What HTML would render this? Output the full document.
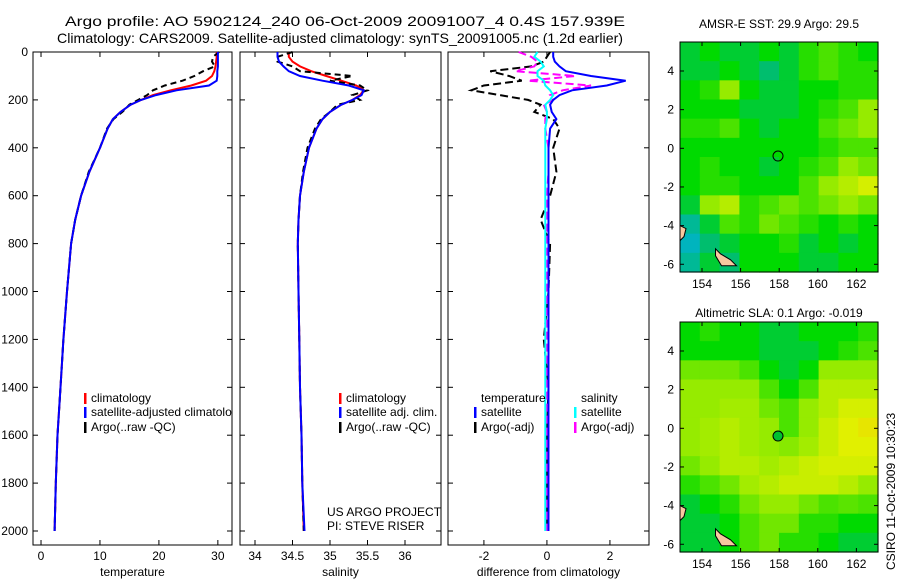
<!DOCTYPE html>
<html><head><meta charset="utf-8"><style>
body{margin:0;background:#fff;}
svg{display:block;font-family:"Liberation Sans",sans-serif;}
</style></head><body>
<svg id="s" width="900" height="580" viewBox="0 0 900 580">
<defs><clipPath id="c1"><rect x="33" y="52" width="199" height="493"/></clipPath></defs>
<text x="345" y="26" font-size="14" text-anchor="middle" textLength="560" lengthAdjust="spacingAndGlyphs">Argo profile: AO 5902124_240 06-Oct-2009 20091007_4 0.4S 157.939E</text>
<text x="340" y="43" font-size="14" text-anchor="middle" textLength="566" lengthAdjust="spacingAndGlyphs">Climatology: CARS2009. Satellite-adjusted climatology: synTS_20091005.nc (1.2d earlier)</text>
<text x="779" y="28" font-size="12" text-anchor="middle">AMSR-E SST: 29.9 Argo: 29.5</text>
<text x="779" y="317" font-size="12" text-anchor="middle">Altimetric SLA: 0.1 Argo: -0.019</text>
<text transform="translate(895,570) rotate(-90)" font-size="12">CSIRO 11-Oct-2009 10:30:23</text>
<g id="g"></g>
</svg>
<script>
// ---- data ----
const depths=[0,20,40,60,80,100,120,140,160,180,200,220,250,280,320,400,500,600,700,800,1000,1200,1400,1600,1800,2000];
const tempClim=[29.8,29.8,29.7,29.6,29.4,29,28,25.5,22,19,17,15.2,13.5,12.2,11.3,10,8.2,6.8,5.8,5.1,4.4,3.8,3.3,2.8,2.5,2.3];
const tempSat=[30,30,30,30,29.9,29.9,29.8,28.5,23,19.5,17,15.2,13.5,12.2,11.3,10,8.2,6.8,5.8,5.1,4.4,3.8,3.3,2.8,2.5,2.3];
const tempArgo=[30.2,29.2,29,29.5,27.5,26,24,21,19,18,16.5,15,13.8,12.3,11.2,10,8.1,6.8,5.8,5.1,4.4,3.8,3.3,2.8,2.5,2.3];
const salClim=[34.45,34.45,34.5,34.6,34.75,34.95,35.15,35.35,35.45,35.4,35.3,35.15,35.0,34.9,34.82,34.72,34.65,34.6,34.58,34.57,34.58,34.59,34.6,34.62,34.63,34.65];
const salSat=[34.3,34.3,34.32,34.38,34.45,34.6,34.9,35.25,35.45,35.42,35.3,35.15,35.0,34.9,34.82,34.72,34.65,34.6,34.58,34.57,34.58,34.59,34.6,34.62,34.63,34.66];
const salArgo=[34.5,34.3,34.3,34.5,34.6,35.3,35,35.4,35.5,35.3,35.4,35.1,35.0,34.88,34.8,34.7,34.64,34.6,34.58,34.57,34.58,34.59,34.6,34.62,34.63,34.65];
const dTempSat=[0.2,0.2,0.25,0.4,0.6,1.4,2.5,1.9,0.8,0.4,0.2,0.1,0.15,0.3,0.1,0.05,0.05,0.05,0.05,0.05,0.05,0.05,0.05,0.05,0.05,0.05];
const dTempArgo=[0.1,0,-0.1,-0.5,-1.8,-1.2,-0.8,-2.0,-2.4,-1.5,-0.6,-0.2,-0.4,0.2,0.4,0.2,0.3,0.1,-0.2,0.1,0.05,-0.1,0.05,0,0,0];
const dSalSat=[-0.3,-0.4,-0.2,-0.1,-0.3,-0.3,-0.1,-0.05,0.1,0.2,0.1,-0.05,0,0,-0.05,-0.05,-0.05,-0.05,-0.05,-0.05,-0.05,-0.05,-0.05,-0.05,-0.05,-0.05];
const dSalArgo=[-0.9,-0.5,-0.3,-0.4,-1.0,0.9,-0.6,1.4,0.5,0.1,0.2,-0.1,0,-0.05,-0.05,0.05,0.05,0,0,0,0,0,0,0,0,0];
const depthTicks=[0,200,400,600,800,1000,1200,1400,1600,1800,2000];
const tTicks=[0,10,20,30], sTicks=[34,34.5,35,35.5,36], dTicks=[-2,0,2];
const lonTicks=[154,156,158,160,162], latTicks=[4,2,0,-2,-4,-6];
const sstGrid=[
[.45,.5,.45,.45,.5,.45,.55,.6,.55,.5],[.45,.45,.5,.45,.4,.45,.55,.6,.55,.55],[.5,.55,.7,.5,.45,.45,.5,.5,.55,.55],
[.5,.5,.5,.45,.45,.45,.5,.55,.6,.7],[.55,.55,.6,.5,.45,.5,.5,.6,.65,.7],[.5,.5,.5,.5,.5,.5,.5,.55,.6,.6],
[.5,.55,.5,.5,.45,.5,.55,.6,.7,.65],[.5,.55,.55,.5,.5,.5,.6,.7,.75,.8],[.45,.7,.75,.55,.6,.65,.6,.65,.7,.65],
[.35,.45,.6,.55,.65,.6,.55,.5,.55,.5],[.3,.4,.45,.5,.5,.55,.45,.5,.45,.5],[.35,.45,.4,.5,.5,.5,.45,.45,.5,.5]];
const slaGrid=[
[.5,.55,.5,.5,.45,.45,.5,.5,.5,.55],[.5,.5,.5,.5,.45,.45,.45,.5,.55,.6],[.65,.65,.65,.6,.5,.45,.5,.7,.7,.7],
[.7,.7,.7,.7,.6,.5,.6,.75,.75,.75],[.7,.7,.72,.72,.65,.6,.7,.75,.8,.8],[.7,.72,.75,.72,.7,.6,.7,.78,.82,.85],
[.7,.72,.75,.72,.7,.68,.72,.78,.82,.82],[.65,.7,.75,.75,.72,.75,.78,.8,.8,.8],[.55,.6,.65,.72,.75,.78,.78,.78,.75,.7],
[.45,.5,.55,.65,.7,.7,.65,.6,.62,.6],[.45,.45,.5,.6,.65,.65,.55,.55,.5,.5],[.45,.45,.5,.6,.65,.55,.55,.5,.45,.45]];
const argoLon=157.939, argoLat=-0.4;
// ---- drawing ----
const NS='http://www.w3.org/2000/svg', G=document.getElementById('g');
function mk(t,a,p){const e=document.createElementNS(NS,t);for(const k in a)e.setAttribute(k,a[k]);(p||G).appendChild(e);return e;}
const yD=d=>52+d*0.2395;
const panels=[
 {x0:33,x1:232,lo:-1.36,hi:32.4,ticks:tTicks,lab:'temperature',name:'temperature'},
 {x0:240,x1:441,lo:33.8,hi:36.48,ticks:sTicks,lab:'salinity',name:'salinity'},
 {x0:448,x1:649,lo:-3.14,hi:3.24,ticks:dTicks,lab:'difference from climatology',name:'difference'}];
panels.forEach(p=>{p.fx=v=>p.x0+(v-p.lo)/(p.hi-p.lo)*(p.x1-p.x0);});
function line(p,xs,col,w,dash,nm){
 const pts=xs.map((v,i)=>p.fx(v).toFixed(1)+','+yD(depths[i]).toFixed(1)).join(' ');
 const e=mk('polyline',{points:pts,fill:'none',stroke:col,'stroke-width':w});
 if(dash)e.setAttribute('stroke-dasharray',dash);
 
 
}
panels.forEach((p,pi)=>{
 const fr=mk('rect',{x:p.x0,y:52,width:p.x1-p.x0,height:493,fill:'none',stroke:'#000'});
 
 
 p.ticks.forEach(t=>{const x=p.fx(t);
  mk('line',{x1:x,x2:x,y1:545,y2:540,stroke:'#000'});mk('line',{x1:x,x2:x,y1:52,y2:57,stroke:'#000'});
  const tx=mk('text',{x:x,y:560,'font-size':12,'text-anchor':'middle'});tx.textContent=t;
  
  });
 const xl=mk('text',{x:(p.x0+p.x1)/2,y:576,'font-size':12,'text-anchor':'middle'});xl.textContent=p.lab;
 
 
 depthTicks.forEach(d=>{const y=yD(d);
  mk('line',{x1:p.x0,x2:p.x0+5,y1:y,y2:y,stroke:'#000'});mk('line',{x1:p.x1,x2:p.x1-5,y1:y,y2:y,stroke:'#000'});
  if(pi==0){const t=mk('text',{x:28,y:y+4,'font-size':12,'text-anchor':'end'});t.textContent=d;
   
   }});
});
const [P1,P2,P3]=panels;
line(P1,tempClim,'#f00',2,null,'temp-climatology-line');
line(P1,tempArgo,'#000',2,'6,4','temp-argo-line');
line(P1,tempSat,'#00f',2,null,'temp-satellite-line');
line(P2,salClim,'#f00',2,null,'sal-climatology-line');
line(P2,salArgo,'#000',2,'6,4','sal-argo-line');
line(P2,salSat,'#00f',2,null,'sal-satellite-line');
line(P3,dTempArgo,'#000',2,'8,4','dtemp-argo-line');
line(P3,dSalArgo,'#f0f',2,'8,4','dsal-argo-line');
line(P3,dTempSat,'#00f',2,null,'dtemp-satellite-line');
line(P3,dSalSat,'#0ff',2,null,'dsal-satellite-line');
const clipG=mk('g',{'clip-path':'url(#c1)'});
function leg(x,y,col,txt,nm,par){mk('rect',{x:x,y:y-9,width:2.5,height:11,fill:col},par);
 const t=mk('text',{x:x+7,y:y,'font-size':12},par);t.textContent=txt;
 
 }
leg(84,402,'#f00','climatology','legend-temp-climatology',clipG);
leg(84,416,'#00f','satellite-adjusted climatology','legend-temp-satellite',clipG);
leg(84,431,'#000','Argo(..raw -QC)','legend-temp-argo',clipG);
leg(339,402,'#f00','climatology','legend-sal-climatology');
leg(339,416,'#00f','satellite adj. clim.','legend-sal-satellite');
leg(339,431,'#000','Argo(..raw -QC)','legend-sal-argo');
const th=mk('text',{x:481,y:402,'font-size':12});th.textContent='temperature';


const sh=mk('text',{x:581,y:402,'font-size':12});sh.textContent='salinity';


leg(474,416,'#00f','satellite','legend-dtemp-satellite');
leg(474,431,'#000','Argo(-adj)','legend-dtemp-argo');
leg(574,416,'#0ff','satellite','legend-dsal-satellite');
leg(574,431,'#f0f','Argo(-adj)','legend-dsal-argo');
const a1=mk('text',{x:327,y:516,'font-size':12});a1.textContent='US ARGO PROJECT';


const a2=mk('text',{x:327,y:530,'font-size':12});a2.textContent='PI: STEVE RISER';


// maps
const stops=[[0,[0,0,140]],[0.3,[0,180,190]],[0.4,[0,190,110]],[0.45,[0,205,50]],[0.5,[0,218,0]],[0.7,[150,235,0]],[0.82,[225,240,0]],[0.9,[240,210,0]],[1,[240,150,0]]];
function cmap(v){for(let i=1;i<stops.length;i++){if(v<=stops[i][0]){const [a,ca]=stops[i-1],[b,cb]=stops[i];const f=(v-a)/(b-a);
 return 'rgb('+ca.map((c,k)=>Math.round(c+(cb[k]-c)*f)).join(',')+')';}}return 'rgb(240,150,0)';}
function map(top,grid,nm,filled){
 const L=680,R=878,B=top+230,lonLo=152.86,lonHi=163.12,latHi=5.5,latLo=-6.4;
 const fx=v=>L+(v-lonLo)/(lonHi-lonLo)*(R-L), fy=v=>top+(latHi-v)/(latHi-latLo)*(B-top);
 const nr=grid.length,nc=grid[0].length,cw=(R-L)/nc,ch=(B-top)/nr;
 grid.forEach((row,r)=>row.forEach((v,c)=>{const e=mk('rect',{x:L+c*cw,y:top+r*ch,width:cw+0.6,height:ch+0.6,fill:cmap(v)});
  
  }));
 mk('path',{d:`M${fx(152.86)},${fy(-4)} l6,3 l-2,8 l-4,4 Z`,fill:'#f8c8a0',stroke:'#000'});
 mk('path',{d:`M${fx(154.7)},${fy(-5.2)} l5,5 l10,6 l6,6 l-15,0 l-6,-10 Z`,fill:'#f8c8a0',stroke:'#000'});
 const fr=mk('rect',{x:L,y:top,width:R-L,height:B-top,fill:'none',stroke:'#000'});
 
 
 lonTicks.forEach(t=>{const x=fx(t);mk('line',{x1:x,x2:x,y1:B,y2:B-4,stroke:'#000'});mk('line',{x1:x,x2:x,y1:top,y2:top+4,stroke:'#000'});
  const tx=mk('text',{x:x,y:B+16,'font-size':12,'text-anchor':'middle'});tx.textContent=t;
  
  });
 latTicks.forEach(t=>{const y=fy(t);mk('line',{x1:L,x2:L+4,y1:y,y2:y,stroke:'#000'});mk('line',{x1:R,x2:R-4,y1:y,y2:y,stroke:'#000'});
  const tx=mk('text',{x:L-6,y:y+4,'font-size':12,'text-anchor':'end'});tx.textContent=t;
  
  });
 const c=mk('circle',{cx:fx(argoLon),cy:fy(argoLat),r:5,fill:filled?'#00c030':'none',stroke:'#000'});
 
 
}
map(42,sstGrid,'sst-map',false);
map(322,slaGrid,'sla-map',true);
</script>
</body></html>
